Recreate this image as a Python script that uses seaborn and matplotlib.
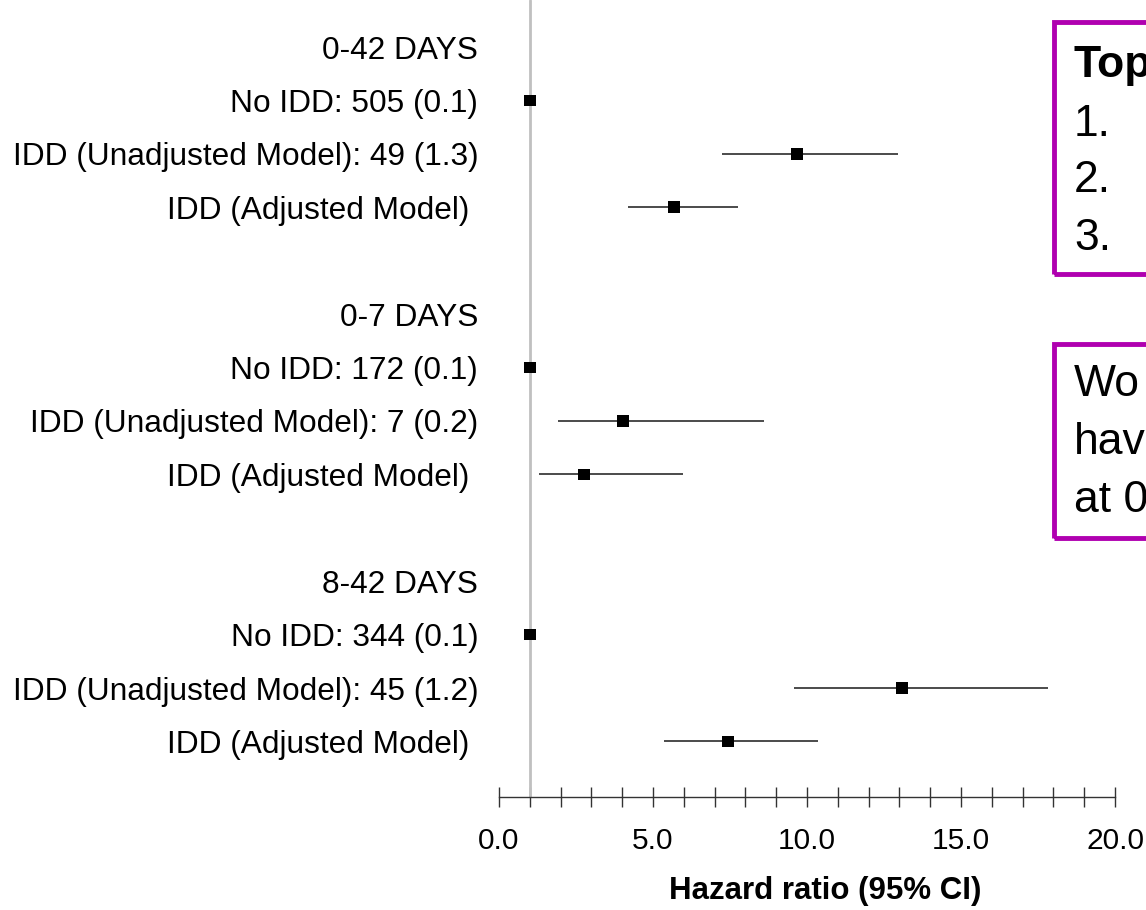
import numpy as np
import pandas as pd
import seaborn as sns
import matplotlib.pyplot as plt
from matplotlib.patches import Rectangle
from matplotlib.ticker import MultipleLocator

# rows of the forest plot (top to bottom)
row_labels = ["0-42 DAYS", "No IDD: 505 (0.1)", "IDD (Unadjusted Model): 49 (1.3)", "IDD (Adjusted Model) ",
              "0-7 DAYS", "No IDD: 172 (0.1)", "IDD (Unadjusted Model): 7 (0.2)", "IDD (Adjusted Model) ",
              "8-42 DAYS", "No IDD: 344 (0.1)", "IDD (Unadjusted Model): 45 (1.2)", "IDD (Adjusted Model) "]
row_pos = [0, 1, 2, 3, 5, 6, 7, 8, 10, 11, 12, 13]

# hazard ratios, None for the header rows
hr = [None, 1.0, 9.68, 5.68, None, 1.0, 4.03, 2.76, None, 1.0, 13.08, 7.44]
ci_low = [None, None, 7.24, 4.19, None, None, 1.92, 1.30, None, None, 9.58, 5.36]
ci_high = [None, None, 12.95, 7.76, None, None, 8.60, 5.97, None, None, 17.82, 10.36]

tick_vals = [0, 5, 10, 15, 20]
tick_text = ["0.0", "5.0", "10.0", "15.0", "20.0"]

box1_lines = ["1.", "2.", "3."]
box2_lines = ["Wo", "hav", "at 0"]

sns.set_style("white")
plt.rcParams['font.family'] = ['Liberation Sans', 'DejaVu Sans']
plt.rcParams['text.color'] = 'black'
plt.rcParams['axes.labelcolor'] = 'black'
plt.rcParams['xtick.labelcolor'] = 'black'
plt.rcParams['ytick.labelcolor'] = 'black'

df = pd.DataFrame({"pos": row_pos, "hr": hr, "lo": ci_low, "hi": ci_high})
pts = df.dropna(subset=["hr"])
cis = df.dropna(subset=["lo"])

fig = plt.figure(figsize=(11.46, 9.10), dpi=100)
ax = fig.add_axes([499 / 1146, (910 - 797) / 910, (1115 - 499) / 1146, 797 / 910])

ax.axvline(1.0, color="#c0c0c0", lw=2, zorder=1)
ax.hlines(cis["pos"], cis["lo"], cis["hi"], color="#1a1a1a", lw=1.1, zorder=2)
sns.scatterplot(data=pts, x="hr", y="pos", marker="s", s=70, color="black",
                edgecolor="none", ax=ax, zorder=3, legend=False)

ax.set_xlim(0, 20)
ax.set_ylim(14.04, -0.88)
ax.set_yticks(row_pos)
ax.set_yticklabels(row_labels, fontsize=22.8)
ax.tick_params(axis="y", length=0, pad=15)

ax.set_xticks(tick_vals)
ax.set_xticklabels(tick_text, fontsize=21.5)
ax.xaxis.set_minor_locator(MultipleLocator(1))
ax.tick_params(axis="x", which="both", bottom=True, direction="inout", length=15, width=1,
               color="#333333", pad=14)
ax.set_xlabel("Hazard ratio (95% CI)", fontsize=22.5, fontweight="bold", va="center")
ax.xaxis.set_label_coords((825 - 499) / 616, -(891 - 797) / 797)
ax.set_ylabel("")

for s in ["top", "right", "left"]:
    ax.spines[s].set_visible(False)
ax.spines["bottom"].set_color("#333333")
ax.spines["bottom"].set_linewidth(1)

# callout boxes running off the right edge
mag = "#b000b0"
fig.patches.append(Rectangle((1054 / 1146, (910 - 274) / 910), 0.2, 252 / 910, transform=fig.transFigure,
                             fill=False, edgecolor=mag, lw=3.5))
fig.patches.append(Rectangle((1054 / 1146, (910 - 538) / 910), 0.2, 194 / 910, transform=fig.transFigure,
                             fill=False, edgecolor=mag, lw=3.5))

fig.text(1074 / 1146, 1 - 66 / 910, "Top", fontsize=32, fontweight="bold", va="center", ha="left")
for i, t in enumerate(box1_lines):
    fig.text(1074 / 1146, 1 - (124 + 57 * i) / 910, t, fontsize=32, va="center", ha="left")
for i, t in enumerate(box2_lines):
    fig.text(1074 / 1146, 1 - (384 + 58 * i) / 910, t, fontsize=32, va="center", ha="left")

fig.savefig("out.png", dpi=100)
